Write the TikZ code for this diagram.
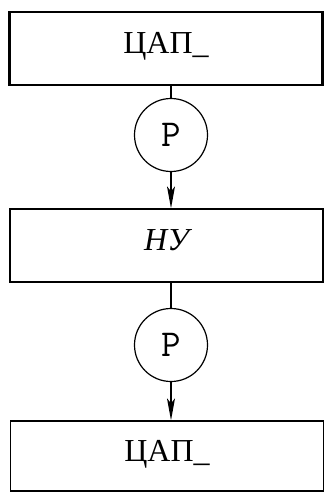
\documentclass[tikz,border=0pt]{standalone}
\usepackage{fontspec}
\setmainfont{Liberation Serif}
\usetikzlibrary{arrows.meta}
\begin{document}
\begin{tikzpicture}[x=1pt,y=-1pt,
  blk/.style={draw,line width=1.3pt,minimum width=313pt,inner sep=0pt,text height=10pt,text depth=0pt,font=\fontsize{32}{32}\selectfont},
  rcirc/.style={draw,circle,line width=1.2pt,minimum size=73pt,inner sep=0pt,font=\ttfamily\fontsize{38}{38}\selectfont},
  conn/.style={line width=1.3pt},
  arr/.style={line width=1.3pt,-{Stealth[length=22pt,width=8pt,inset=5pt]}}]
\useasboundingbox (0,0) rectangle (324,492);
\node[blk,line width=2.4pt,minimum height=73pt] (c1) at (166,48.5) {ЦАП\_};
\node[rcirc] (p1) at (171,135) {P};
\node[blk,minimum height=73pt] (nu) at (166.5,245.5) {\itshape НУ};
\node[rcirc] (p2) at (171,345) {P};
\node[blk,minimum height=70pt] (c2) at (167,456) {ЦАП\_};
\draw[conn] (p1.north) -- (p1.north |- c1.south);
\draw[arr] (p1.south) -- (p1.south |- nu.north);
\draw[conn] (p2.north) -- (p2.north |- nu.south);
\draw[arr] (p2.south) -- (p2.south |- c2.north);
\end{tikzpicture}
\end{document}
